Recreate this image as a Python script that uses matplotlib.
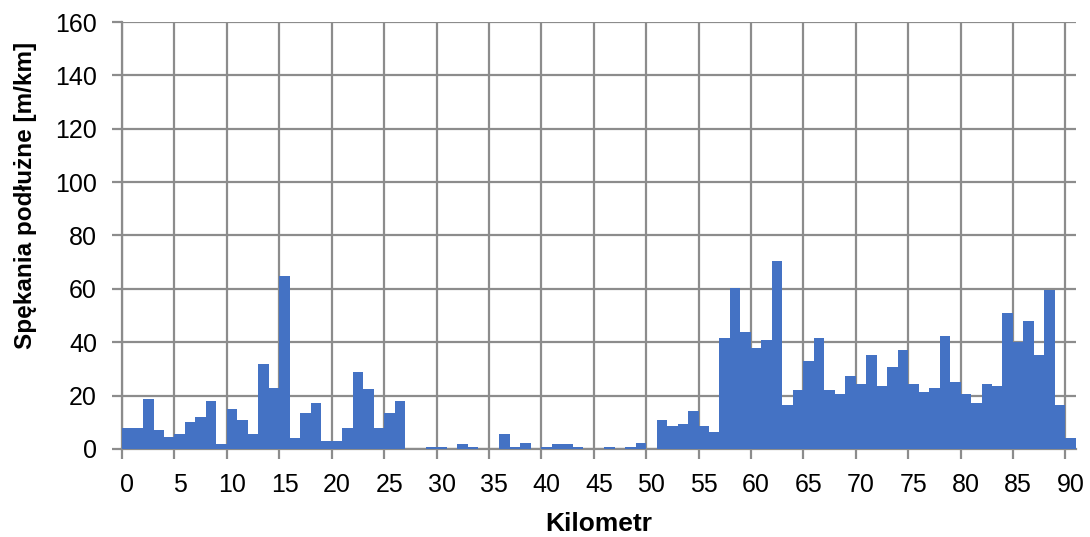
import matplotlib
matplotlib.use("Agg")
import matplotlib.pyplot as plt
import numpy as np

plt.rcParams["font.family"] = ["Liberation Sans", "DejaVu Sans"]

# km 0..90, one bar per km
km = list(range(91))
cracks = [
    8.0, 8.0, 18.8, 7.1, 4.6, 5.6, 10.2, 11.8, 18.0, 1.7,       # 0-9
    14.8, 10.9, 5.7, 32.0, 22.8, 64.8, 4.0, 13.3, 17.3, 3.1,    # 10-19
    3.1, 8.0, 28.9, 22.6, 8.0, 13.3, 18.0, 0.0, 0.0, 0.9,       # 20-29
    0.9, 0.0, 1.7, 0.9, 0.0, 0.0, 5.5, 0.9, 2.3, 0.0,           # 30-39
    0.9, 1.7, 1.7, 0.9, 0.0, 0.0, 0.9, 0.0, 0.9, 2.3,           # 40-49
    0.0, 11.0, 8.6, 9.5, 14.1, 8.6, 6.4, 41.5, 60.3, 43.8,      # 50-59
    37.9, 40.8, 70.6, 16.6, 22.0, 33.0, 41.6, 22.0, 20.5, 27.5, # 60-69
    24.4, 35.3, 23.6, 30.6, 36.9, 24.4, 21.3, 22.8, 42.4, 25.1, # 70-79
    20.5, 17.4, 24.4, 23.7, 51.0, 39.9, 47.9, 35.3, 59.6, 16.5, # 80-89
    4.0,                                                        # 90
]
xtick_labels = [str(k) for k in range(0, 91, 5)]
ytick_values = list(range(0, 161, 20))

grid_col = "#8c8c8c"

fig = plt.figure(figsize=(10.9, 5.37), dpi=100)
ax = fig.add_axes([0.112, 0.164, 0.875, 0.795])

ax.bar(km, cracks, width=1.0, color="#4472C4", zorder=3, linewidth=0)

ax.set_xlim(-0.5, 90.5)
ax.set_ylim(0, 160)

# labels in the middle of the category, grid lines on category borders
ax.set_xticks(range(0, 91, 5))
ax.set_xticklabels(xtick_labels)
ax.set_xticks(np.arange(-0.5, 90, 5), minor=True)
ax.set_yticks(ytick_values)

ax.tick_params(axis="x", which="major", length=0, labelsize=18, pad=17)
ax.tick_params(axis="x", which="minor", length=7, width=1.6, color=grid_col)
ax.tick_params(axis="y", length=7, width=1.6, color=grid_col, labelsize=18, pad=11)

ax.grid(True, axis="y", which="major", color=grid_col, lw=1.6, zorder=1)
ax.grid(True, axis="x", which="minor", color=grid_col, lw=1.6, zorder=1)
ax.grid(False, axis="x", which="major")

for side in ["top", "right"]:
    ax.spines[side].set_visible(False)
for side in ["left", "bottom"]:
    ax.spines[side].set_color(grid_col)
    ax.spines[side].set_linewidth(1.6)

ax.set_xlabel("Kilometr", fontsize=19, fontweight="bold")
ax.xaxis.set_label_coords(0.5, -0.148)
ax.set_ylabel("Spękania podłużne [m/km]", fontsize=17.5, fontweight="bold")
ax.yaxis.set_label_coords(-0.089, 0.593)

fig.savefig("out.png", dpi=100)
